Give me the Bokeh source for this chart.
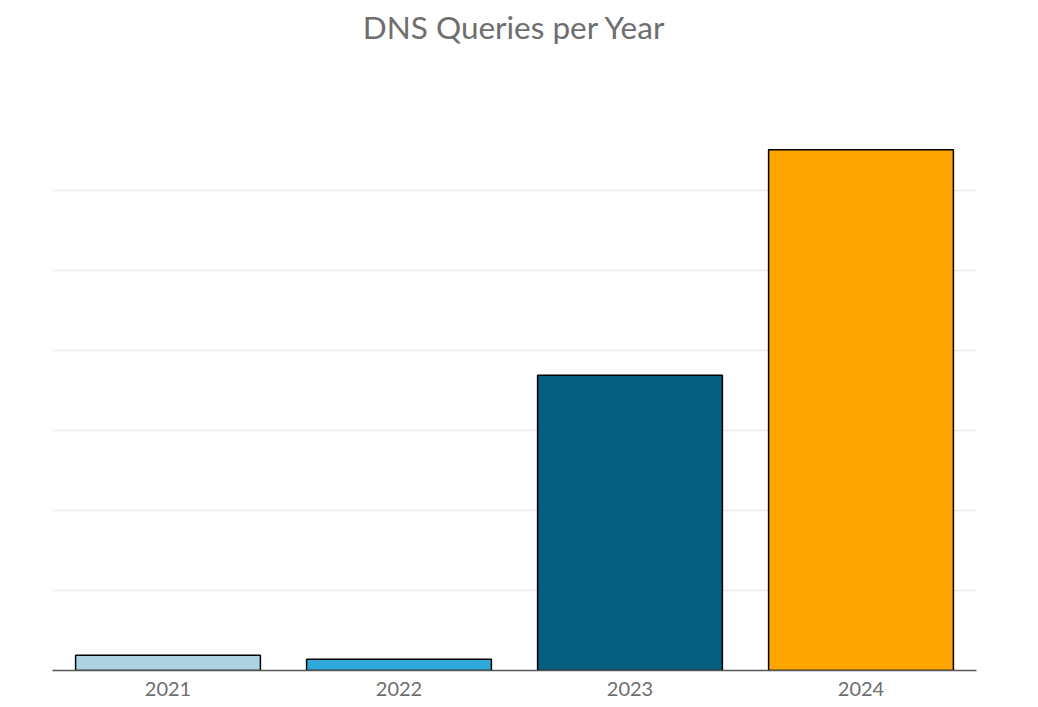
from bokeh.plotting import figure
from bokeh.models import ColumnDataSource, FactorRange, Range1d, FixedTicker, Title
from bokeh.embed import file_html
from bokeh.resources import INLINE

years = ["2021", "2022", "2023", "2024"]
queries = [0.19, 0.14, 3.69, 6.51]
colors = ["#ADD3E0", "#2FAADB", "#075F80", "#FFA500"]

src = ColumnDataSource(dict(year=years, q=queries, c=colors))

p = figure(x_range=FactorRange(*years, range_padding=0), y_range=Range1d(0, 7),
           frame_width=924, frame_height=560, min_border_left=52, min_border_right=54,
           min_border_bottom=29, min_border_top=110,
           output_backend="svg", toolbar_location=None, title="DNS Queries per Year")
p.title.align = "center"
p.title.text_font = "Lato"
p.title.text_font_size = "31.5px"
p.title.text_font_style = "normal"
p.title.text_color = "#6E6E6E"
p.title.standoff = 0

spacer = Title(text=" ", text_font_size="56px", standoff=0)
p.add_layout(spacer, "above")

p.vbar(x="year", top="q", width=0.8, fill_color="c", line_color="black", line_width=1.5, source=src)

p.outline_line_color = None
p.xgrid.grid_line_color = None
p.ygrid.grid_line_color = "#EBEBEB"
p.ygrid.grid_line_width = 1.5
p.yaxis.ticker = FixedTicker(ticks=[1, 2, 3, 4, 5, 6])
p.yaxis.visible = False
p.xaxis.axis_line_color = "#555555"
p.xaxis.axis_line_width = 1.5
p.xaxis.major_tick_line_color = None
p.xaxis.minor_tick_line_color = None
p.xaxis.major_tick_out = 0
p.xaxis.major_label_standoff = 11
p.xaxis.major_label_text_font = "Lato"
p.xaxis.major_label_text_font_size = "20px"
p.xaxis.major_label_text_color = "#6E6E6E"

open("out.html", "w").write(file_html(p, INLINE))
